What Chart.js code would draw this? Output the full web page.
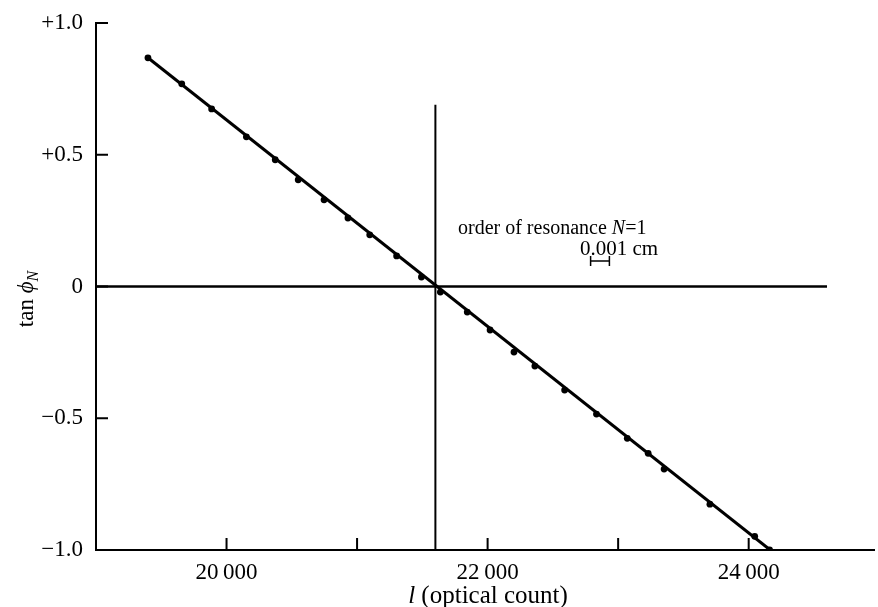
<!DOCTYPE html>
<html>
<head>
<meta charset="utf-8">
<script src="https://cdn.jsdelivr.net/npm/chart.js@4.4.1/dist/chart.umd.min.js"></script>
<style>
  html, body { margin: 0; padding: 0; background: #fff; }
  #wrap { width: 878px; height: 607px; }
</style>
</head>
<body>
<div id="wrap"><canvas id="phaseChart"></canvas></div>
<script>
// measured points: optical count l and tan(phi_N)
let countValues = [19398, 19657, 19886, 20152, 20373, 20549, 20747, 20930, 21097, 21303, 21493,
                   21638, 21844, 22019, 22202, 22362, 22590, 22834, 23070, 23230, 23352, 23703, 24046, 24160];
let tanValues = [0.868, 0.769, 0.674, 0.568, 0.481, 0.405, 0.329, 0.260, 0.196, 0.116, 0.036,
                 -0.021, -0.097, -0.165, -0.249, -0.302, -0.393, -0.484, -0.576, -0.633, -0.693, -0.826, -0.948, -1.0];

// straight line drawn through the points
let fitCounts = [19398, 24165];
let fitTans = [0.868, -1.0];

// resonance marker (vertical) and the zero line
let resonanceCounts = [21600, 21600];
let resonanceTans = [-1.0, 0.69];
let zeroCounts = [19000, 24600];
let zeroTans = [0, 0];

// 0.001 cm scale bar, in counts
let barCounts = [22789, 22933];
let barTan = 0.097;

let xTicks = [20000, 21000, 22000, 23000, 24000];
let xLabels = ['20\u2009000', '', '22\u2009000', '', '24\u2009000'];
let yTicks = [-1, -0.5, 0, 0.5, 1];
let yLabels = ['\u22121.0', '\u22120.5', '0', '+0.5', '+1.0'];

const serif = "'Liberation Serif', 'DejaVu Serif', serif";

function toPoints(xs, ys) {
    return xs.map((x, i) => ({ x: x, y: ys[i] }));
}

// draw a row of text pieces, some italic / shifted, starting at x
function drawRuns(ctx, runs, x, y, align) {
    let total = 0;
    runs.forEach(r => {
        ctx.font = (r.italic ? 'italic ' : '') + r.size + 'px ' + serif;
        r.w = ctx.measureText(r.text).width;
        total += r.w;
    });
    let cx = align === 'center' ? x - total / 2 : x;
    runs.forEach(r => {
        ctx.font = (r.italic ? 'italic ' : '') + r.size + 'px ' + serif;
        ctx.fillText(r.text, cx, y + (r.dy || 0));
        cx += r.w;
    });
}

let extras = {
    id: 'extras',
    afterDraw(chart) {
        let ctx = chart.ctx;
        let xs = chart.scales.x, ys = chart.scales.y;
        let area = chart.chartArea;
        ctx.save();
        ctx.strokeStyle = '#000';
        ctx.fillStyle = '#000';
        ctx.lineWidth = 2;

        // tick marks point into the plot
        ctx.beginPath();
        xTicks.forEach(v => {
            let px = xs.getPixelForValue(v);
            ctx.moveTo(px, area.bottom);
            ctx.lineTo(px, area.bottom - 12);
        });
        yTicks.forEach(v => {
            let py = ys.getPixelForValue(v);
            ctx.moveTo(area.left, py);
            ctx.lineTo(area.left + 12, py);
        });
        ctx.stroke();

        // scale bar for 0.001 cm
        let b0 = xs.getPixelForValue(barCounts[0]);
        let b1 = xs.getPixelForValue(barCounts[1]);
        let by = ys.getPixelForValue(barTan);
        ctx.lineWidth = 1.5;
        ctx.beginPath();
        ctx.moveTo(b0, by); ctx.lineTo(b1, by);
        ctx.moveTo(b0, by - 5); ctx.lineTo(b0, by + 5);
        ctx.moveTo(b1, by - 5); ctx.lineTo(b1, by + 5);
        ctx.stroke();

        ctx.textBaseline = 'alphabetic';
        drawRuns(ctx, [
            { text: 'order of resonance ', size: 20 },
            { text: 'N', size: 20, italic: true },
            { text: '=1', size: 20 }
        ], 458, 234);
        drawRuns(ctx, [{ text: '0.001 cm', size: 21 }], 580, 255);

        // axis titles
        drawRuns(ctx, [
            { text: 'l', size: 25, italic: true },
            { text: ' (optical count)', size: 25 }
        ], 488, 603, 'center');

        ctx.translate(33, 299);
        ctx.rotate(-Math.PI / 2);
        drawRuns(ctx, [
            { text: 'tan ', size: 23 },
            { text: '\u03D5', size: 23, italic: true },
            { text: 'N', size: 16, italic: true, dy: 5 }
        ], 0, 0, 'center');
        ctx.restore();
    }
};

new Chart(document.getElementById('phaseChart'), {
    type: 'scatter',
    data: {
        datasets: [{
            type: 'line',
            data: toPoints(fitCounts, fitTans),
            borderColor: '#000',
            borderWidth: 3,
            pointRadius: 0,
            order: 3
        }, {
            type: 'line',
            data: toPoints(resonanceCounts, resonanceTans),
            borderColor: '#000',
            borderWidth: 2,
            pointRadius: 0,
            order: 4
        }, {
            type: 'line',
            data: toPoints(zeroCounts, zeroTans),
            borderColor: '#000',
            borderWidth: 2.5,
            pointRadius: 0,
            order: 4
        }, {
            data: toPoints(countValues, tanValues),
            pointRadius: 3.4,
            pointBackgroundColor: '#000',
            pointBorderWidth: 0,
            order: 1
        }]
    },
    options: {
        responsive: true,
        maintainAspectRatio: false,
        animation: false,
        devicePixelRatio: 1,
        layout: { padding: { top: 23, right: 0, left: 0, bottom: 0 } },
        plugins: {
            legend: { display: false },
            tooltip: { enabled: false }
        },
        scales: {
            x: {
                type: 'linear',
                min: 19000,
                max: 24960,
                afterFit: s => { s.height = 57; },
                afterBuildTicks: s => { s.ticks = xTicks.map(v => ({ value: v })); },
                grid: { display: false },
                border: { display: true, color: '#000', width: 2 },
                ticks: {
                    color: '#000',
                    padding: 1,
                    maxRotation: 0,
                    autoSkip: false,
                    font: { family: serif, size: 23 },
                    callback: v => xLabels[xTicks.indexOf(v)]
                }
            },
            y: {
                type: 'linear',
                min: -1,
                max: 1,
                afterFit: s => { s.width = 96; },
                afterBuildTicks: s => { s.ticks = yTicks.map(v => ({ value: v })); },
                grid: { display: false },
                border: { display: true, color: '#000', width: 2 },
                ticks: {
                    color: '#000',
                    padding: 5,
                    font: { family: serif, size: 23 },
                    callback: v => yLabels[yTicks.indexOf(v)]
                }
            }
        }
    },
    plugins: [extras]
});
</script>
</body>
</html>
